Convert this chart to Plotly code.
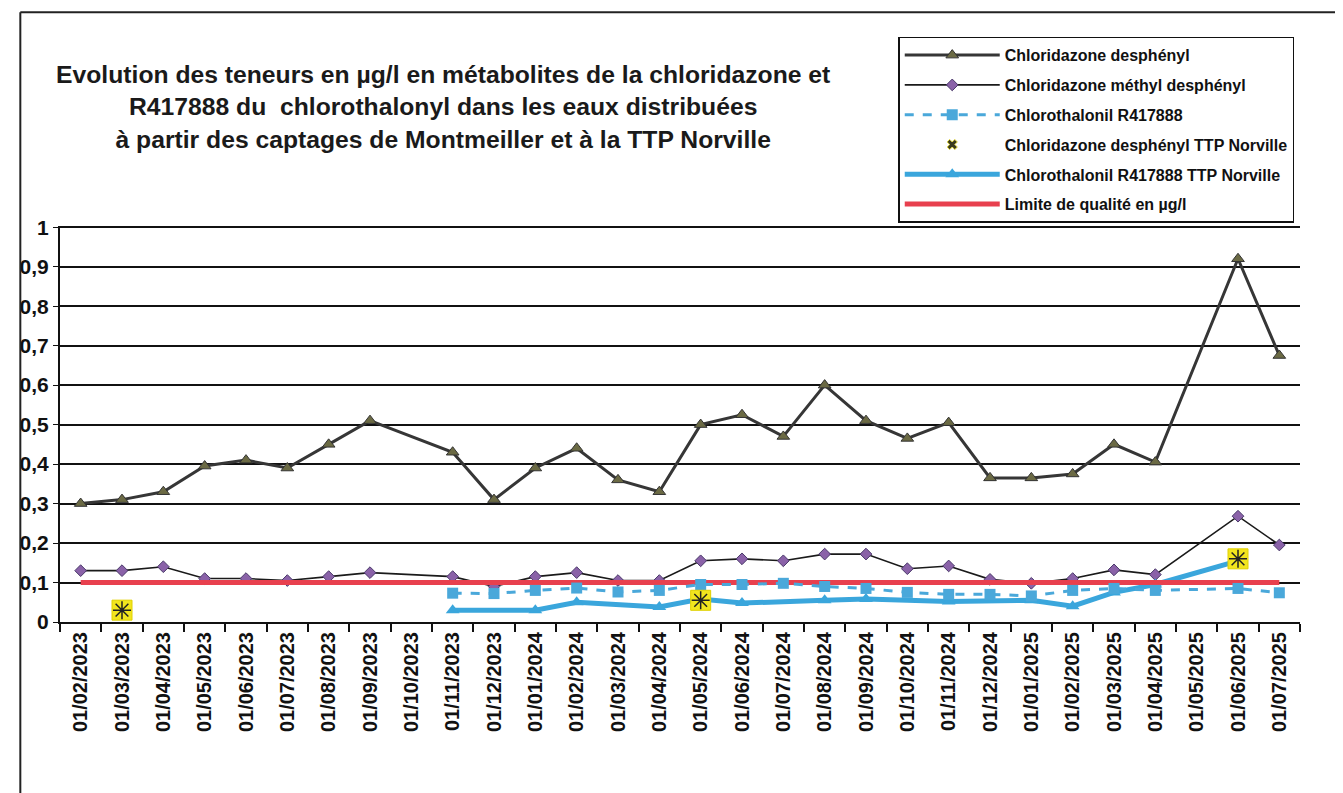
import plotly.graph_objects as go

dates = ["01/02/2023", "01/03/2023", "01/04/2023", "01/05/2023", "01/06/2023", "01/07/2023",
         "01/08/2023", "01/09/2023", "01/10/2023", "01/11/2023", "01/12/2023", "01/01/2024",
         "01/02/2024", "01/03/2024", "01/04/2024", "01/05/2024", "01/06/2024", "01/07/2024",
         "01/08/2024", "01/09/2024", "01/10/2024", "01/11/2024", "01/12/2024", "01/01/2025",
         "01/02/2025", "01/03/2025", "01/04/2025", "01/05/2025", "01/06/2025", "01/07/2025"]

chloridazone_desphenyl = [0.30, 0.31, 0.33, 0.395, 0.41, 0.39, 0.45, 0.51, None, 0.43,
                          0.31, 0.39, 0.44, 0.36, 0.33, 0.50, 0.525, 0.47, 0.60, 0.51,
                          0.465, 0.505, 0.365, 0.365, 0.375, 0.45, 0.405, None, 0.92, 0.675]

chloridazone_methyl = [0.13, 0.13, 0.14, 0.11, 0.11, 0.105, 0.115, 0.125, None, 0.115,
                       0.09, 0.115, 0.125, 0.105, 0.105, 0.155, 0.16, 0.155, 0.172, 0.172,
                       0.135, 0.142, 0.108, 0.098, 0.11, 0.132, 0.12, None, 0.268, 0.195]

chlorothalonil = [None, None, None, None, None, None, None, None, None, 0.073,
                  0.072, 0.08, 0.086, 0.076, 0.08, 0.095, 0.095, 0.098, 0.09, 0.085,
                  0.075, 0.07, 0.07, 0.066, 0.08, 0.085, 0.08, None, 0.085, 0.074]

chloridazone_ttp = [None, 0.03, None, None, None, None, None, None, None, None,
                    None, None, None, None, None, 0.055, None, None, None, None,
                    None, None, None, None, None, None, None, None, 0.16, None]

chlorothalonil_ttp = [None, None, None, None, None, None, None, None, None, 0.03,
                      None, 0.03, 0.05, None, 0.038, 0.058, 0.048, None, 0.055, 0.058,
                      None, 0.052, None, 0.055, 0.04, 0.075, 0.095, None, 0.155, None]

limite = [0.1] * len(dates)

y_ticks = [0, 0.1, 0.2, 0.3, 0.4, 0.5, 0.6, 0.7, 0.8, 0.9, 1]

FONT = "Liberation Sans, Arial, sans-serif"

fig = go.Figure()

fig.add_trace(go.Scatter(
    x=dates, y=chloridazone_desphenyl, name="Chloridazone desphényl",
    mode="lines+markers", connectgaps=True, legendgroup="a", legendrank=1,
    line=dict(color="#363636", width=3),
    marker=dict(symbol="triangle-up", size=11, color="#6b6a44",
                line=dict(color="#333333", width=1))))

fig.add_trace(go.Scatter(
    x=dates, y=chloridazone_methyl, name="Chloridazone méthyl desphényl",
    mode="lines+markers", connectgaps=True, legendgroup="b", legendrank=2,
    line=dict(color="#1a1a1a", width=1.6),
    marker=dict(symbol="diamond", size=9, color="#8a62a8",
                line=dict(color="#4a3a6a", width=1))))

fig.add_trace(go.Scatter(
    x=dates, y=chlorothalonil_ttp, name="Chlorothalonil R417888 TTP Norville",
    mode="lines+markers", connectgaps=True, legendgroup="e", legendrank=5,
    line=dict(color="#3aa6dc", width=5),
    marker=dict(symbol="triangle-up", size=12, color="#3aa6dc")))

fig.add_trace(go.Scatter(
    x=dates, y=limite, name="Limite de qualité en µg/l",
    mode="lines", legendgroup="f", legendrank=6,
    line=dict(color="#e8404e", width=5)))

fig.add_trace(go.Scatter(
    x=dates, y=chlorothalonil, name="Chlorothalonil R417888",
    mode="lines+markers", connectgaps=True, legendgroup="c", legendrank=3,
    line=dict(color="#4aa8da", width=3, dash="dash"),
    marker=dict(symbol="square", size=11, color="#4aa8da")))

fig.add_trace(go.Scatter(
    x=dates, y=chloridazone_ttp, showlegend=False, hoverinfo="skip",
    mode="markers", legendgroup="d",
    marker=dict(symbol="square", size=20, color="#f2e51e",
                line=dict(color="#e0d000", width=1))))

fig.add_trace(go.Scatter(
    x=dates, y=chloridazone_ttp, showlegend=False, hoverinfo="skip",
    mode="markers", legendgroup="d",
    marker=dict(symbol="asterisk-open", size=15, color="#222222",
                line=dict(color="#222222", width=1.5))))

# legend-only entry (small dark cross on yellow, as in the original key)
fig.add_trace(go.Scatter(
    x=[dates[0]], y=[None], name="Chloridazone desphényl TTP Norville",
    mode="markers", legendgroup="d", legendrank=4,
    marker=dict(symbol="x", size=9, color="#3a3a20",
                line=dict(color="#e8dc40", width=1))))

# outer frame of the scanned chart
fig.add_shape(type="line", xref="paper", yref="paper", x0=-0.032, x1=1.04, y0=1.54, y1=1.54,
              line=dict(color="#222222", width=2))
fig.add_shape(type="line", xref="paper", yref="paper", x0=-0.032, x1=-0.032, y0=1.54, y1=-0.44,
              line=dict(color="#222222", width=2))

fig.update_layout(
    width=1335, height=785,
    margin=dict(l=52, r=43, t=218, b=171),
    paper_bgcolor="white", plot_bgcolor="white",
    separators=", ",
    font=dict(family=FONT, color="#111111", size=15),
    title=dict(
        text="<b>Evolution des teneurs en µg/l en métabolites de la chloridazone et<br>"
             "R417888 du  chlorothalonyl dans les eaux distribuées<br>"
             "à partir des captages de Montmeiller et à la TTP Norville</b>",
        x=0.326, xanchor="center", y=0.904, yanchor="top",
        font=dict(family=FONT, size=24.7, color="#1a1a1a")),
    showlegend=True,
    legend=dict(
        x=0.676, xanchor="left", y=1.478, yanchor="top",
        bgcolor="white", bordercolor="#111111", borderwidth=1.5,
        font=dict(family=FONT, size=16, color="#111111", weight="bold"),
        tracegroupgap=6, traceorder="grouped",
        itemwidth=95, entrywidth=425),
    xaxis=dict(
        type="category", tickangle=-90, tickson="boundaries",
        ticks="outside", ticklen=8, tickcolor="#111111", tickwidth=1.5,
        showline=True, linecolor="#111111", linewidth=2,
        showgrid=False, zeroline=False,
        tickfont=dict(family=FONT, size=20, color="#111111", weight="bold"),
        range=[-0.5, 29.5]),
    yaxis=dict(
        range=[0, 1.003], tickvals=y_ticks,
        ticks="outside", ticklen=5, tickcolor="#111111",
        showline=True, linecolor="#111111", linewidth=2,
        showgrid=True, gridcolor="#111111", gridwidth=1.5,
        zeroline=False,
        tickfont=dict(family=FONT, size=21, color="#111111", weight="bold")),
)

fig.write_html("out.html")
